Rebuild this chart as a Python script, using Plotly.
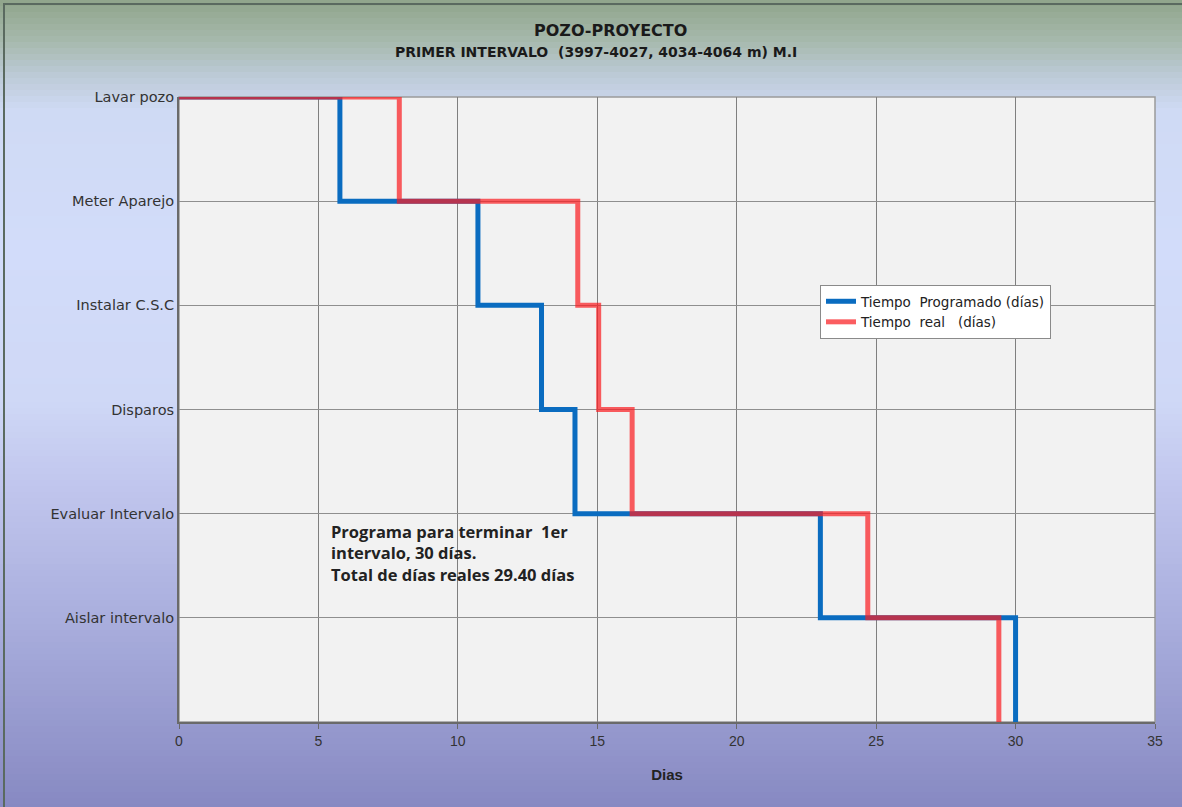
import plotly.graph_objects as go

# ---------------- data ----------------
etapas = ["Lavar pozo", "Meter Aparejo", "Instalar C.S.C", "Disparos",
          "Evaluar Intervalo", "Aislar intervalo"]
niveles = [6, 5, 4, 3, 2, 1]
fin_programado = [5.77, 10.72, 13.0, 14.2, 23.0, 30.0]
fin_real = [7.9, 14.3, 15.05, 16.25, 24.7, 29.4]
x_ticks = [0, 5, 10, 15, 20, 25, 30, 35]

W, H = 1182, 807
L, R, T, B = 179, 27, 97, 85
PW, PH = W - L - R, H - T - B


def px2x(px):
    return (px - L) / PW


def py2y(py):
    return (H - B - py) / PH


def hexmix(c1, c2, t):
    a = [int(c1[i:i + 2], 16) for i in (1, 3, 5)]
    b = [int(c2[i:i + 2], 16) for i in (1, 3, 5)]
    return "#%02x%02x%02x" % tuple(round(a[k] + (b[k] - a[k]) * t) for k in range(3))


stops = [(0, "#8fa58a"), (40, "#a6b8ac"), (75, "#bccad6"), (110, "#cfdaf4"),
         (250, "#d2dcfa"), (400, "#cfd8f6"), (480, "#c2c7ee"), (620, "#a9aedd"),
         (807, "#8789c2")]


def grad_color(py):
    for (y0, c0), (y1, c1) in zip(stops[:-1], stops[1:]):
        if y0 <= py <= y1:
            return hexmix(c0, c1, (py - y0) / (y1 - y0) if y1 > y0 else 0)
    return stops[-1][1]


shapes = []
step = 6
for py in range(0, H, step):
    shapes.append(dict(type="rect", xref="paper", yref="paper", layer="below",
                       x0=px2x(0), x1=px2x(W), y0=py2y(py + step + 1), y1=py2y(py),
                       fillcolor=grad_color(py + step / 2), line=dict(width=0)))
# plot background
shapes.append(dict(type="rect", xref="paper", yref="paper", layer="below",
                   x0=0, x1=1, y0=0, y1=1, fillcolor="#f2f2f2", line=dict(width=0)))
# outer frame
shapes.append(dict(type="rect", xref="paper", yref="paper", layer="above",
                   x0=px2x(4), x1=px2x(W + 5), y0=py2y(H + 5), y1=py2y(4),
                   fillcolor="rgba(0,0,0,0)", line=dict(color="#5a6a60", width=2)))
# plot frame
shapes.append(dict(type="rect", xref="paper", yref="paper", layer="below",
                   x0=0, x1=1, y0=0, y1=1, fillcolor="rgba(0,0,0,0)",
                   line=dict(color="#9a9a9a", width=1.5)))


def step_xy(ends):
    xs = [0] + list(ends)
    ys = niveles + [0]
    return xs, ys


bx, by = step_xy(fin_programado)
rx, ry = step_xy(fin_real)

fig = go.Figure()
fig.add_trace(go.Scatter(x=bx, y=by, mode="lines", line_shape="hv",
                         line=dict(color="#0a6cc0", width=5),
                         name="Tiempo  Programado (días)", cliponaxis=False))
fig.add_trace(go.Scatter(x=rx, y=ry, mode="lines", line_shape="hv",
                         line=dict(color="rgba(250,30,35,0.72)", width=5),
                         name="Tiempo  real   (días)", cliponaxis=False))

annotations = [
    dict(text="<b>POZO-PROYECTO</b>", x=px2x(610), y=py2y(30), xref="paper", yref="paper",
         showarrow=False, font=dict(family="DejaVu Sans", size=16, color="#1a1a1a"),
         xanchor="center", yanchor="middle"),
    dict(text="<b>PRIMER INTERVALO  (3997-4027, 4034-4064 m) M.I</b>", x=px2x(596), y=py2y(52),
         xref="paper", yref="paper", showarrow=False,
         font=dict(family="DejaVu Sans", size=14, color="#1a1a1a"),
         xanchor="center", yanchor="middle"),
    dict(text="<b>Programa para terminar  1er<br>intervalo, 30 días.<br>Total de días reales 29.40 días</b>",
         x=px2x(329), y=py2y(518), xref="paper", yref="paper", showarrow=False, align="left",
         xanchor="left", yanchor="top",
         font=dict(family="Open Sans", size=16.5, color="#222222")),
]

fig.update_layout(
    width=W, height=H,
    margin=dict(l=L, r=R, t=T, b=B),
    paper_bgcolor="#d2dcfa",
    plot_bgcolor="rgba(0,0,0,0)",
    shapes=shapes,
    annotations=annotations,
    showlegend=True,
    legend=dict(x=px2x(820), y=py2y(285), xanchor="left", yanchor="top",
                bgcolor="white", bordercolor="#8a8a8a", borderwidth=1,
                font=dict(family="DejaVu Sans", size=13.5, color="#222"),
                itemwidth=30, tracegroupgap=2),
    xaxis=dict(range=[0, 35], tickvals=x_ticks, showgrid=True, gridcolor="#7f7f7f", gridwidth=1,
               zeroline=False, showline=True, linecolor="#6a6a6a", linewidth=2,
               ticks="outside", ticklen=5, tickcolor="#6a6a6a",
               tickfont=dict(family="Liberation Sans", size=14, color="#333"),
               title=dict(text="<b>Dias</b>", standoff=22,
                          font=dict(family="Liberation Sans", size=15, color="#222"))),
    yaxis=dict(range=[0, 6], tickvals=niveles, ticktext=etapas, showgrid=True,
               gridcolor="#8f8f8f", gridwidth=1, zeroline=False, showline=True,
               linecolor="#6a6a6a", linewidth=2, ticks="", ticklabelstandoff=0,
               tickfont=dict(family="DejaVu Sans", size=14.5, color="#333")),
)

fig.write_html("out.html", post_script="document.body.style.margin='0px';",
               config={"displayModeBar": False})
